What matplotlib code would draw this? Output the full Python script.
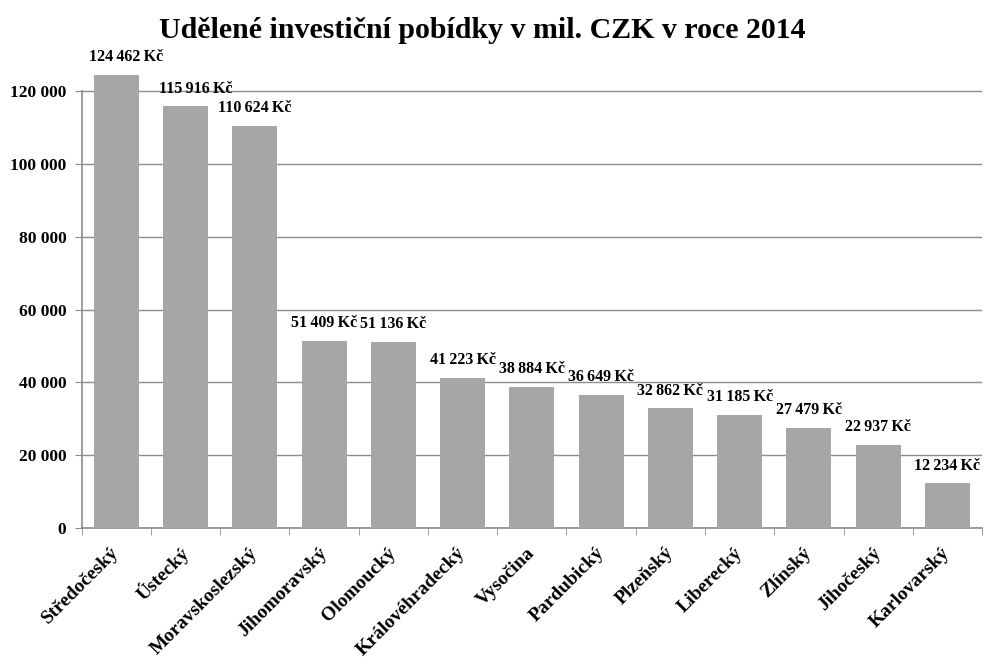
import numpy as np
import matplotlib.pyplot as plt
from matplotlib.ticker import FuncFormatter

kraje = ['Středočeský', 'Ústecký', 'Moravskoslezský', 'Jihomoravský', 'Olomoucký',
         'Královéhradecký', 'Vysočina', 'Pardubický', 'Plzeňský', 'Liberecký',
         'Zlínský', 'Jihočeský', 'Karlovarský']
pobidky = [124462, 115916, 110624, 51409, 51136, 41223, 38884, 36649, 32862,
           31185, 27479, 22937, 12234]
yticks = [0, 20000, 40000, 60000, 80000, 100000, 120000]

plt.rcParams['font.family'] = ['Liberation Serif', 'DejaVu Serif']
plt.rcParams['font.weight'] = 'bold'

fig = plt.figure(figsize=(9.84, 6.62), dpi=100)
ax = fig.add_axes([0.083, 0.2024, 0.915, 0.742])

x = np.arange(len(kraje))
ax.bar(x, pobidky, width=0.65, color='#a6a6a6', zorder=3)

# first two labels sit a bit to the right, like in the original excel chart
for i, (xi, v) in enumerate(zip(x, pobidky)):
    lbl = f'{v:,}'.replace(',', '\u2009') + '\u2009Kč'
    dx = 7 if i < 2 else 0
    ax.annotate(lbl, (xi, v), xytext=(dx, 7), textcoords='offset points',
                ha='center', va='bottom', fontsize=11.5, fontweight='bold')

ax.set_xlim(-0.5, len(kraje) - 0.5)
ax.set_ylim(0, 135000)
ax.set_yticks(yticks)
ax.yaxis.set_major_formatter(FuncFormatter(lambda v, p: f'{int(v):,}'.replace(',', ' ')))
ax.grid(axis='y', color='#8c8c8c', linewidth=1, zorder=0)

ax.set_xticks(x)
ax.set_xticklabels(kraje, rotation=45, ha='right', va='center',
                   rotation_mode='anchor', fontsize=14, fontweight='bold')
ax.set_xticks(np.arange(-0.5, len(kraje)), minor=True)
ax.tick_params(axis='x', which='major', length=0, pad=16)
ax.tick_params(axis='x', which='minor', length=5, color='#8c8c8c', direction='out')
ax.tick_params(axis='y', length=5, color='#8c8c8c', labelsize=12.5, pad=6)

for s in ['top', 'right']:
    ax.spines[s].set_visible(False)
for s in ['left', 'bottom']:
    ax.spines[s].set_color('#8c8c8c')
    ax.spines[s].set_linewidth(1.2)
ax.spines['left'].set_bounds(0, yticks[-1])

fig.suptitle('Udělené investiční pobídky v mil. CZK v roce 2014', x=0.49, y=0.975,
             fontsize=21.5, fontweight='bold')

fig.savefig('out.png', dpi=100)
